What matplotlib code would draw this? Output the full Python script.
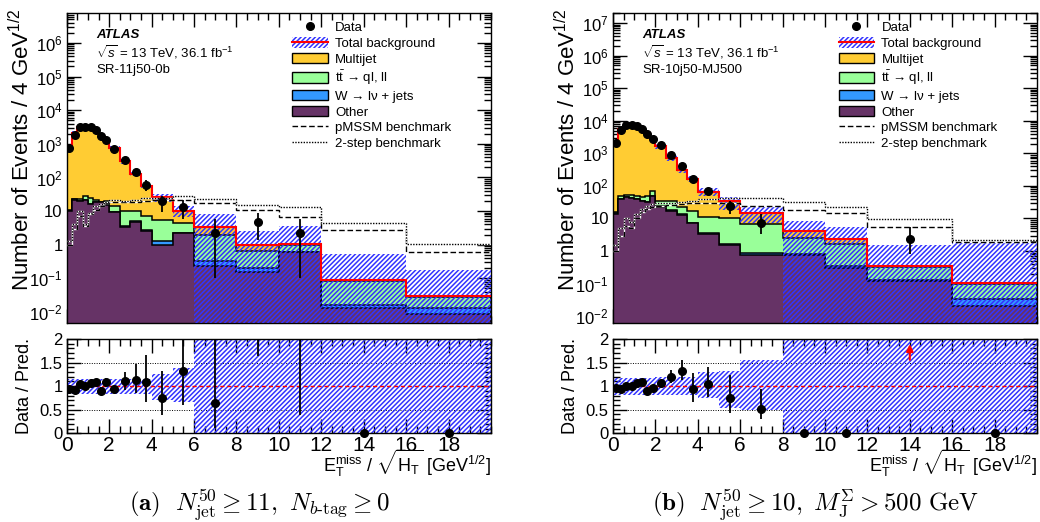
import numpy as np
import matplotlib
matplotlib.use('Agg')
import matplotlib.pyplot as plt
from matplotlib.patches import Patch
from matplotlib.lines import Line2D
from matplotlib.ticker import MultipleLocator, LogLocator, FuncFormatter, NullFormatter, FixedLocator

FONT = 'Liberation Sans'
TICK_FONT_SIZE = 12
XTICK_FONT_SIZE = 15
LABEL_FONT_SIZE = 16
RATIO_LABEL_FONT_SIZE = 13
TEXT_FONT_SIZE = 9.5
CAPTION_FONT_SIZE = 18
HATCH = '///////'

C_MULTIJET = '#ffcc33'
C_TTBAR = '#99ff99'
C_WJETS = '#3399ff'
C_OTHER = '#663366'
C_HATCH = '#3333ff'

matplotlib.rcParams['font.family'] = FONT
matplotlib.rcParams['mathtext.fontset'] = 'custom'
matplotlib.rcParams['mathtext.rm'] = FONT
matplotlib.rcParams['mathtext.it'] = FONT + ':italic'
matplotlib.rcParams['mathtext.bf'] = FONT + ':bold'
matplotlib.rcParams['mathtext.sf'] = FONT
matplotlib.rcParams['hatch.color'] = C_HATCH
matplotlib.rcParams['hatch.linewidth'] = 1.1
matplotlib.rcParams['axes.linewidth'] = 1.0

# binning in MET/sqrt(HT) [GeV^1/2]
EDGES = [0, 0.25, 0.5, 0.75, 1, 1.25, 1.5, 1.75, 2, 2.5, 3, 3.5, 4, 5, 6, 8, 10, 12, 16, 20]

# ---- (a) SR-11j50-0b ----
data_a = [760, 1880, 3180, 3180, 3180, 2520, 1670, 1330, 700, 330, 146, 61, 19.5, 13.3, 2.2, 4.6, 2.2, 0, 0]
data_dn_a = [30, 45, 55, 55, 55, 50, 40, 36, 30, 25, 31, 22, 10.3, 7.5, 2.1, 3.2, 2.1, 0, 0]
data_up_a = [30, 45, 55, 55, 55, 50, 40, 36, 30, 25, 36, 24, 9.5, 8.7, 3.6, 4.2, 3.6, 0, 0]
ratio_a = [0.95, 0.92, 1.04, 1.01, 1.07, 1.08, 0.90, 1.08, 0.94, 1.10, 1.14, 1.08, 0.74, 1.33, 0.64, 4.6, 2.2, 0, 0]
ratio_dn_a = [0.05, 0.05, 0.05, 0.05, 0.05, 0.05, 0.08, 0.1, 0.07, 0.18, 0.29, 0.41, 0.35, 0.73, 0.53, 2.97, 1.81, 0, 0]
ratio_up_a = [0.05, 0.05, 0.05, 0.05, 0.05, 0.05, 0.08, 0.1, 0.07, 0.21, 0.34, 0.58, 0.58, 0.7, 1.5, 3.0, 3.0, 0, 0]
other_a = [10, 22, 20, 21, 16.6, 19, 18, 15.5, 9.4, 3.4, 4.9, 2.5, 0.95, 2.2, 0.24, 0.15, 0.6, 0.013, 0.0087]
wjets_a = [0.1, 0.2, 0.2, 0.2, 0.2, 0.2, 0.2, 0.2, 0.2, 0.15, 0.15, 0.15, 0.3, 0.1, 0.08, 0.05, 0.02, 0.003, 0.0048]
ttbar_a = [0.9, 0.8, 2.8, 7.8, 7.2, 2.8, 0.8, 4.3, 4.9, 6.25, 4.75, 4.35, 4.25, 2.1, 1.68, 0.43, 0.33, 0.069, 0.0145]
multijet_a = [789, 2017, 3037, 3121, 2946, 2308, 1841, 1210, 730, 290, 118, 49.5, 20.9, 5.6, 1.4, 0.37, 0.1, 0.005, 0.002]
band_up_a = [0.16] * 12 + [0.25, 0.38, 1.34, 1.6, 2.5, 5.0, 5.0]
band_dn_a = [0.16] * 12 + [0.29, 0.33, 1, 1, 1, 1, 1]
pmssm_a = [1.0, 3, 7, 3.5, 8, 11, 14, 17, 19, 18, 18, 20, 22, 22, 17.4, 10.5, 6.7, 2.7, 0.6]
step2_a = [1.3, 4, 10, 4, 9, 14, 16, 19, 22, 20, 21, 24, 25, 29, 23, 15.5, 13, 4.4, 1.07]

# ---- (b) SR-10j50-MJ500 ----
data_b = [2090, 5130, 7300, 7600, 6950, 5760, 3800, 2700, 1780, 870, 400, 158, 69, 25, 7.4, 0, 0, 2.4, 0]
data_dn_b = [60, 90, 110, 110, 110, 100, 80, 70, 55, 40, 30, 20, 12, 11, 4, 0, 0, 1.6, 0]
data_up_b = [60, 90, 110, 110, 110, 100, 80, 70, 55, 40, 30, 20, 12, 10, 6.6, 0, 0, 2.9, 0]
ratio_b = [0.97, 0.94, 1.01, 1.01, 1.07, 1.08, 0.90, 0.97, 1.07, 1.20, 1.32, 0.95, 1.04, 0.74, 0.51, 0, 0, 6.9, 0]
ratio_dn_b = [0.04, 0.04, 0.04, 0.04, 0.04, 0.04, 0.05, 0.05, 0.06, 0.13, 0.19, 0.28, 0.26, 0.32, 0.21, 0, 0, 4.6, 0]
ratio_up_b = [0.04, 0.04, 0.04, 0.04, 0.04, 0.04, 0.05, 0.05, 0.06, 0.14, 0.23, 0.32, 0.37, 0.5, 0.44, 0, 0, 8.0, 0]
other_b = [14, 40, 45, 43, 40, 35, 31, 50, 23, 17.4, 13, 7.1, 3.3, 1.55, 0.75, 0.76, 0.31, 0.12, 0.021]
wjets_b = [0.3, 0.5, 0.5, 0.5, 0.5, 0.5, 0.5, 0.5, 0.4, 0.4, 0.3, 0.3, 0.2, 0.15, 0.1, 0.05, 0.03, 0.01, 0.012]
ttbar_b = [1.7, 9.5, 6.5, 8.5, 9.5, 11.5, 16.5, 21.5, 11.6, 16.2, 9.7, 10.0, 7.3, 8.7, 5.95, 1.79, 1.36, 0.2, 0.067]
multijet_b = [2134, 5410, 7178, 7468, 6450, 5283, 4172, 2708, 1625, 691, 280, 148.6, 55.2, 23.6, 7.7, 1.6, 0.6, 0.02, 0.001]
band_up_b = [0.18] * 8 + [0.2] * 4 + [0.3, 0.33, 0.55, 1.0, 1.4, 3.4, 18]
band_dn_b = [0.18] * 8 + [0.18] * 4 + [0.25, 0.47, 0.5, 1, 1, 1, 1]
pmssm_b = [1.0, 3, 6, 5, 10, 16, 20, 22, 25, 26, 28, 30, 30, 30, 25, 18.3, 14.4, 5.3, 1.96]
step2_b = [1.5, 5, 10, 8, 14, 20, 25, 28, 30, 30, 33, 35, 40, 42, 43, 31.5, 23, 9.6, 2.2]

LEGEND_LABELS = ['Data', 'Total background', 'Multijet', r'$\mathrm{t\bar{t}}$ → ql, ll',
                 'W → lν + jets', 'Other', 'pMSSM benchmark', '2-step benchmark']

W, H = 1040.0, 522.0


def px_axes(fig, x0, x1, y0, y1):
    return fig.add_axes([x0 / W, 1 - y1 / H, (x1 - x0) / W, (y1 - y0) / H])


def log_label(v, pos):
    n = int(round(np.log10(v)))
    if n == 0:
        return '1'
    if n == 1:
        return '10'
    return r'$10^{%d}$' % n


def style_axis(ax):
    ax.tick_params(which='both', direction='in', top=True, right=True, labelsize=TICK_FONT_SIZE)
    ax.tick_params(axis='x', labelsize=XTICK_FONT_SIZE)
    ax.tick_params(which='major', length=10, width=1)
    ax.tick_params(which='minor', length=5, width=1)
    ax.xaxis.set_major_locator(FixedLocator(range(0, 20, 2)))
    ax.xaxis.set_minor_locator(MultipleLocator(0.5))
    ax.set_xlim(0, 20)


def DrawPanel(ax, axr, d, region, ylim):
    edges = np.array(EDGES, dtype=float)
    centers = 0.5 * (edges[:-1] + edges[1:])
    data = np.array(d['data'], dtype=float)
    cum_other = np.array(d['other'], dtype=float)
    cum_w = cum_other + np.array(d['wjets'])
    cum_tt = cum_w + np.array(d['ttbar'])
    total = cum_tt + np.array(d['multijet'])

    # stacked backgrounds
    for cum, col in [(total, C_MULTIJET), (cum_tt, C_TTBAR), (cum_w, C_WJETS), (cum_other, C_OTHER)]:
        ax.stairs(cum, edges, baseline=1e-6, fill=True, facecolor=col, edgecolor='black',
                  linewidth=1.1, zorder=2)
    # uncertainty band
    hi = total * (1 + np.array(d['band_up']))
    lo = np.maximum(total * (1 - np.array(d['band_dn'])), 1e-6)
    ax.stairs(hi, edges, baseline=lo, fill=True, facecolor='none', edgecolor=C_HATCH,
              linewidth=0, hatch=HATCH, zorder=3)
    ax.stairs(total, edges, baseline=None, color='red', linewidth=1.5, zorder=4)
    # signal benchmarks
    for vals, ls in [(d['pmssm'], (0, (4, 2))), (d['step2'], (0, (1, 1)))]:
        ax.stairs(vals, edges, baseline=None, color='white', linewidth=1.0, zorder=5)
        ax.stairs(vals, edges, baseline=None, color='black', linewidth=1.0, linestyle=ls, zorder=5)
    # data
    m = data > 0
    ax.errorbar(centers[m], data[m],
                yerr=[np.array(d['data_dn'])[m], np.array(d['data_up'])[m]],
                fmt='o', color='black', ms=5.5, elinewidth=1.3, capsize=0, zorder=6)

    ax.set_yscale('log')
    ax.set_ylim(*ylim)
    style_axis(ax)
    ax.yaxis.set_major_locator(LogLocator(base=10, numticks=20))
    ax.yaxis.set_minor_locator(LogLocator(base=10, subs=np.arange(2, 10), numticks=200))
    ax.yaxis.set_major_formatter(FuncFormatter(log_label))
    ax.yaxis.set_minor_formatter(NullFormatter())
    ax.tick_params(axis='x', labelbottom=False)
    ax.tick_params(axis='y', pad=3)
    ax.set_ylabel('Number of Events / 4 GeV$^{1/2}$', fontsize=LABEL_FONT_SIZE, loc='top')
    ax.yaxis.set_label_coords(-0.077, 1.018)

    ax.text(0.069, 0.93, 'ATLAS', transform=ax.transAxes, fontsize=TEXT_FONT_SIZE,
            fontweight='bold', fontstyle='italic', va='center')
    ax.text(0.069, 0.873, r'$\sqrt{s}$ = 13 TeV, 36.1 fb$^{-1}$', transform=ax.transAxes,
            fontsize=TEXT_FONT_SIZE, va='center')
    ax.text(0.069, 0.818, region, transform=ax.transAxes, fontsize=TEXT_FONT_SIZE, va='center')

    # legend
    handles = [Line2D([], [], marker='o', color='black', ls='none', ms=5.5),
               (Patch(facecolor='white', edgecolor=C_HATCH, hatch=HATCH, linewidth=0),
                Line2D([], [], color='red', lw=1.5)),
               Patch(facecolor=C_MULTIJET, edgecolor='black', linewidth=1.0),
               Patch(facecolor=C_TTBAR, edgecolor='black', linewidth=1.0),
               Patch(facecolor=C_WJETS, edgecolor='black', linewidth=1.0),
               Patch(facecolor=C_OTHER, edgecolor='black', linewidth=1.0),
               Line2D([], [], color='black', lw=1.0, ls=(0, (4, 2))),
               Line2D([], [], color='black', lw=1.0, ls=(0, (1, 1)))]
    ax.legend(handles, LEGEND_LABELS, loc='upper left', bbox_to_anchor=(0.532, 0.974),
              frameon=False, fontsize=TEXT_FONT_SIZE, handlelength=2.7, handleheight=0.85,
              handletextpad=0.55, labelspacing=0.22, borderpad=0, borderaxespad=0)

    # ratio panel
    ratio = np.array(d['ratio'], dtype=float)
    r_dn = np.array(d['ratio_dn'], dtype=float)
    r_up = np.array(d['ratio_up'], dtype=float)
    axr.stairs(1 + np.array(d['band_up']), edges, baseline=1 - np.array(d['band_dn']), fill=True,
               facecolor='none', edgecolor=C_HATCH, linewidth=0, hatch=HATCH, zorder=2)
    axr.axhline(1, color='red', ls=(0, (3, 2)), lw=1.0, zorder=3)
    for yy in (0.5, 1.5):
        axr.axhline(yy, color='black', ls=(0, (1, 1.5)), lw=0.7, zorder=1)
    ymax = 2.0
    inside = (data > 0) & (ratio <= ymax)
    axr.errorbar(centers[inside], ratio[inside], yerr=[r_dn[inside], r_up[inside]],
                 fmt='o', color='black', ms=5.5, elinewidth=1.3, capsize=0, zorder=6)
    above = (data > 0) & (ratio > ymax) & (ratio - r_dn < ymax)
    axr.errorbar(centers[above], ratio[above], yerr=[r_dn[above], r_up[above]],
                 fmt='none', ecolor='black', elinewidth=1.3, capsize=0, zorder=6)
    for x in centers[(data > 0) & (ratio - r_dn >= ymax)]:
        axr.annotate('', xy=(x, 0.975 * ymax), xytext=(x, 0.75 * ymax),
                     arrowprops=dict(arrowstyle='-|>', color='red', lw=1.5, mutation_scale=10),
                     zorder=7)
    zero = data == 0
    axr.plot(centers[zero], ratio[zero], 'o', color='black', ms=5.5, clip_on=False, zorder=6)

    axr.set_ylim(0, ymax)
    style_axis(axr)
    axr.yaxis.set_major_locator(MultipleLocator(0.5))
    axr.yaxis.set_minor_locator(MultipleLocator(0.1))
    axr.yaxis.set_major_formatter(FuncFormatter(lambda v, p: '%g' % v))
    axr.tick_params(axis='x', pad=2)
    axr.tick_params(axis='y', pad=3)
    axr.set_ylabel('Data / Pred.', fontsize=RATIO_LABEL_FONT_SIZE)
    axr.yaxis.set_label_coords(-0.08, 0.5)
    axr.set_xlabel(r'E$_{\mathrm{T}}^{\mathrm{miss}}$ / $\sqrt{\mathrm{H_T}}$ [GeV$^{1/2}$]',
                   fontsize=RATIO_LABEL_FONT_SIZE, loc='right')
    axr.xaxis.set_label_coords(1.0, -0.155)
    axr.xaxis.label.set_va('top')


if __name__ == "__main__":
    fig = plt.figure(figsize=(10.4, 5.22), dpi=100)
    ax_a = px_axes(fig, 66.7, 491, 13.3, 322.7)
    axr_a = px_axes(fig, 66.7, 491, 339, 433.3)
    ax_b = px_axes(fig, 613, 1037, 13.3, 322.7)
    axr_b = px_axes(fig, 613, 1037, 339, 433.3)

    panel_a = dict(data=data_a, data_dn=data_dn_a, data_up=data_up_a, ratio=ratio_a,
                   ratio_dn=ratio_dn_a, ratio_up=ratio_up_a, other=other_a, wjets=wjets_a,
                   ttbar=ttbar_a, multijet=multijet_a, band_up=band_up_a, band_dn=band_dn_a,
                   pmssm=pmssm_a, step2=step2_a)
    panel_b = dict(data=data_b, data_dn=data_dn_b, data_up=data_up_b, ratio=ratio_b,
                   ratio_dn=ratio_dn_b, ratio_up=ratio_up_b, other=other_b, wjets=wjets_b,
                   ttbar=ttbar_b, multijet=multijet_b, band_up=band_up_b, band_dn=band_dn_b,
                   pmssm=pmssm_b, step2=step2_b)

    DrawPanel(ax_a, axr_a, panel_a, 'SR-11j50-0b', (4.8e-3, 7.6e6))
    DrawPanel(ax_b, axr_b, panel_b, 'SR-10j50-MJ500', (6.3e-3, 2.0e7))

    fig.text(0.25, 0.033, r'$\mathbf{(a)}\ \ N^{50}_{\mathrm{jet}} \geq 11,\ N_{b\text{-}\mathrm{tag}} \geq 0$',
             math_fontfamily='cm', fontsize=CAPTION_FONT_SIZE, ha='center', va='center')
    fig.text(0.784, 0.033, r'$\mathbf{(b)}\ \ N^{50}_{\mathrm{jet}} \geq 10,\ M_{\mathrm{J}}^{\Sigma} > 500\ \mathrm{GeV}$',
             math_fontfamily='cm', fontsize=CAPTION_FONT_SIZE, ha='center', va='center')

    fig.savefig('out.png', dpi=100)
